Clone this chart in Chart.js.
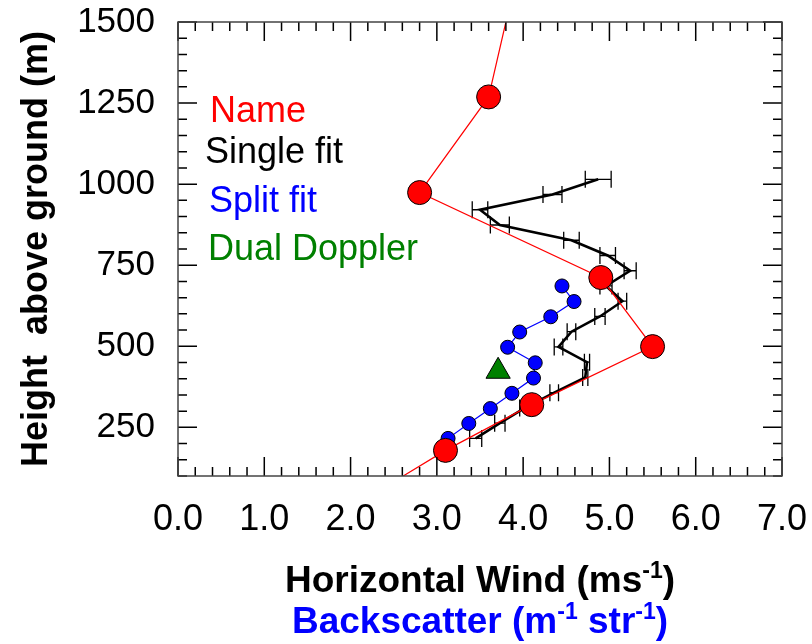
<!DOCTYPE html>
<html>
<head>
<meta charset="utf-8">
<script src="https://cdn.jsdelivr.net/npm/chart.js@4.4.1/dist/chart.umd.min.js"></script>
<style>
  html, body { margin: 0; padding: 0; background: #fff; }
</style>
</head>
<body>
<canvas id="chart" width="812" height="644"></canvas>
<script>
// red "Name" profile (ends run off the plot edges)
const nameWind = [2.61, 3.1, 4.1, 5.5, 4.9, 2.8, 3.6, 3.8];
const nameHeight = [100, 179, 320, 499, 712, 974, 1269, 1500];

// black single fit with horizontal error bars
const singleHeight = [216, 263, 310, 357, 404, 451, 498, 545, 592, 639, 686, 733, 780, 827, 874, 921, 968, 1015];
const singleWind = [3.45, 3.73, 4.02, 4.36, 4.72, 4.74, 4.41, 4.56, 4.89, 5.15, 4.96, 5.24, 4.98, 4.56, 3.73, 3.50, 4.34, 4.87];
const singleErr = [0.07, 0.06, 0.06, 0.05, 0.03, 0.03, 0.05, 0.05, 0.06, 0.05, 0.07, 0.07, 0.09, 0.09, 0.11, 0.09, 0.11, 0.15];

// blue split fit
const splitHeight = [216, 262, 308, 355, 402, 449, 497, 544, 591, 638, 686];
const splitWind = [3.13, 3.37, 3.62, 3.87, 4.12, 4.14, 3.82, 3.96, 4.32, 4.59, 4.45];

// green dual doppler
const dualWind = [3.71];
const dualHeight = [423];

const windTicks = [0, 1, 2, 3, 4, 5, 6, 7];
const heightTicks = [250, 500, 750, 1000, 1250, 1500];

const legendLabels = ['Name', 'Single fit', 'Split fit', 'Dual Doppler'];
const legendColors = ['#ff0000', '#000000', '#0000ff', '#008000'];

const FONT = '"Liberation Sans", Arial, sans-serif';

function toPoints(xs, ys) {
    return xs.map((v, i) => ({ x: v, y: ys[i] }));
}

const errorBars = {
    id: 'errorBars',
    beforeDatasetsDraw(chart) {
        const { ctx, scales: { x, y } } = chart;
        ctx.save();
        ctx.strokeStyle = '#000';
        ctx.lineWidth = 1.3;
        singleWind.forEach((w, i) => {
            const py = y.getPixelForValue(singleHeight[i]);
            const x0 = x.getPixelForValue(w - singleErr[i]);
            const x1 = x.getPixelForValue(w + singleErr[i]);
            ctx.beginPath();
            ctx.moveTo(x0, py);
            ctx.lineTo(x1, py);
            ctx.moveTo(x0, py - 8.5);
            ctx.lineTo(x0, py + 8.5);
            ctx.moveTo(x1, py - 8.5);
            ctx.lineTo(x1, py + 8.5);
            ctx.stroke();
        });
        ctx.restore();
    }
};

// box with inward ticks on all four sides
const frameTicks = {
    id: 'frameTicks',
    afterDraw(chart) {
        const { ctx, chartArea: a, scales: { x, y } } = chart;
        ctx.save();
        ctx.strokeStyle = '#000';
        ctx.lineWidth = 1.5;
        ctx.beginPath();
        for (let i = 0; i <= 35; i++) {
            const px = x.getPixelForValue(i * 0.2);
            const len = i % 5 === 0 ? 19 : 9;
            ctx.moveTo(px, a.bottom);
            ctx.lineTo(px, a.bottom - len);
            ctx.moveTo(px, a.top);
            ctx.lineTo(px, a.top + len);
        }
        for (let h = 100; h <= 1500; h += 50) {
            const py = y.getPixelForValue(h);
            const len = h % 250 === 0 ? 19 : 9;
            ctx.moveTo(a.left, py);
            ctx.lineTo(a.left + len, py);
            ctx.moveTo(a.right, py);
            ctx.lineTo(a.right - len, py);
        }
        ctx.stroke();
        ctx.strokeStyle = '#444';
        ctx.strokeRect(a.left, a.top, a.right - a.left, a.bottom - a.top);
        ctx.restore();
    }
};

// text-only legend inside the plot, slightly uneven like the original
const legendDx = [32, 27, 31, 30];
const legendDy = [100, 141, 190, 238];

const textLegend = {
    id: 'textLegend',
    afterDatasetsDraw(chart) {
        const { ctx, chartArea: a } = chart;
        ctx.save();
        ctx.font = '36px ' + FONT;
        ctx.textAlign = 'left';
        ctx.textBaseline = 'alphabetic';
        legendLabels.forEach((t, i) => {
            ctx.fillStyle = legendColors[i];
            ctx.fillText(t, a.left + legendDx[i], a.top + legendDy[i]);
        });
        ctx.restore();
    }
};

function drawRich(ctx, parts, cx, baseline, size, color) {
    const font = sup => 'bold ' + (sup ? Math.round(size * 0.62) : size) + 'px ' + FONT;
    let total = 0;
    parts.forEach(p => {
        ctx.font = font(p[1]);
        total += ctx.measureText(p[0]).width;
    });
    let px = cx - total / 2;
    ctx.fillStyle = color;
    ctx.textAlign = 'left';
    ctx.textBaseline = 'alphabetic';
    parts.forEach(p => {
        ctx.font = font(p[1]);
        ctx.fillText(p[0], px, baseline - (p[1] ? size * 0.38 : 0));
        px += ctx.measureText(p[0]).width;
    });
}

const xTitles = {
    id: 'xTitles',
    afterDraw(chart) {
        const { ctx, chartArea: a } = chart;
        const cx = (a.left + a.right) / 2;
        ctx.save();
        drawRich(ctx, [['Horizontal Wind (ms', false], ['-1', true], [')', false]], cx, a.bottom + 116, 37, '#000');
        drawRich(ctx, [['Backscatter (m', false], ['-1', true], [' str', false], ['-1', true], [')', false]], cx, a.bottom + 157, 37, '#0000ff');
        ctx.restore();
    }
};

new Chart(document.getElementById('chart'), {
    type: 'scatter',
    data: {
        datasets: [
            {
                label: 'Single fit',
                data: toPoints(singleWind, singleHeight),
                showLine: true,
                borderColor: '#000',
                borderWidth: 2.6,
                pointRadius: 0,
                tension: 0,
                order: 4
            },
            {
                label: 'Split fit',
                data: toPoints(splitWind, splitHeight),
                showLine: true,
                borderColor: '#0000ff',
                borderWidth: 1.2,
                pointRadius: 7,
                pointBackgroundColor: '#0000ff',
                pointBorderColor: '#000',
                pointBorderWidth: 1,
                order: 3
            },
            {
                label: 'Name',
                data: toPoints(nameWind, nameHeight),
                showLine: true,
                borderColor: '#ff0000',
                borderWidth: 1.2,
                pointRadius: ctx => (ctx.dataIndex === 0 || ctx.dataIndex === nameWind.length - 1) ? 0 : 12,
                pointBackgroundColor: '#ff0000',
                pointBorderColor: '#000',
                pointBorderWidth: 1,
                order: 2
            },
            {
                label: 'Dual Doppler',
                data: toPoints(dualWind, dualHeight),
                pointStyle: 'triangle',
                pointRadius: 14,
                pointBackgroundColor: '#008000',
                pointBorderColor: '#000',
                pointBorderWidth: 1,
                order: 1
            }
        ]
    },
    options: {
        responsive: false,
        animation: false,
        layout: {
            padding: { left: 0, right: 30, top: 22, bottom: 0 }
        },
        plugins: {
            legend: { display: false },
            tooltip: { enabled: false }
        },
        scales: {
            x: {
                type: 'linear',
                position: 'bottom',
                min: 0,
                max: 7,
                afterFit(scale) {
                    scale.height = 168;
                    scale.paddingLeft = 0;
                    scale.paddingRight = 0;
                },
                afterBuildTicks(scale) { scale.ticks = windTicks.map(v => ({ value: v })); },
                grid: { display: false, drawTicks: false },
                border: { display: false },
                ticks: {
                    color: '#000',
                    font: { family: FONT, size: 36 },
                    padding: 22,
                    maxRotation: 0,
                    autoSkip: false,
                    callback: v => Number(v).toFixed(1)
                }
            },
            y: {
                type: 'linear',
                min: 100,
                max: 1500,
                afterFit(scale) {
                    scale.width = 178;
                    scale.paddingTop = 0;
                    scale.paddingBottom = 0;
                },
                afterBuildTicks(scale) { scale.ticks = heightTicks.map(v => ({ value: v })); },
                grid: { display: false, drawTicks: false },
                border: { display: false },
                ticks: {
                    color: '#000',
                    font: { family: FONT, size: 35 },
                    padding: 23,
                    autoSkip: false,
                    callback: v => String(v)
                },
                title: {
                    display: true,
                    text: 'Height  above ground (m)',
                    color: '#000',
                    font: { family: FONT, size: 36, weight: 'bold' },
                    padding: { top: 15, bottom: 0 }
                }
            }
        }
    },
    plugins: [errorBars, frameTicks, textLegend, xTitles]
});
</script>
</body>
</html>
